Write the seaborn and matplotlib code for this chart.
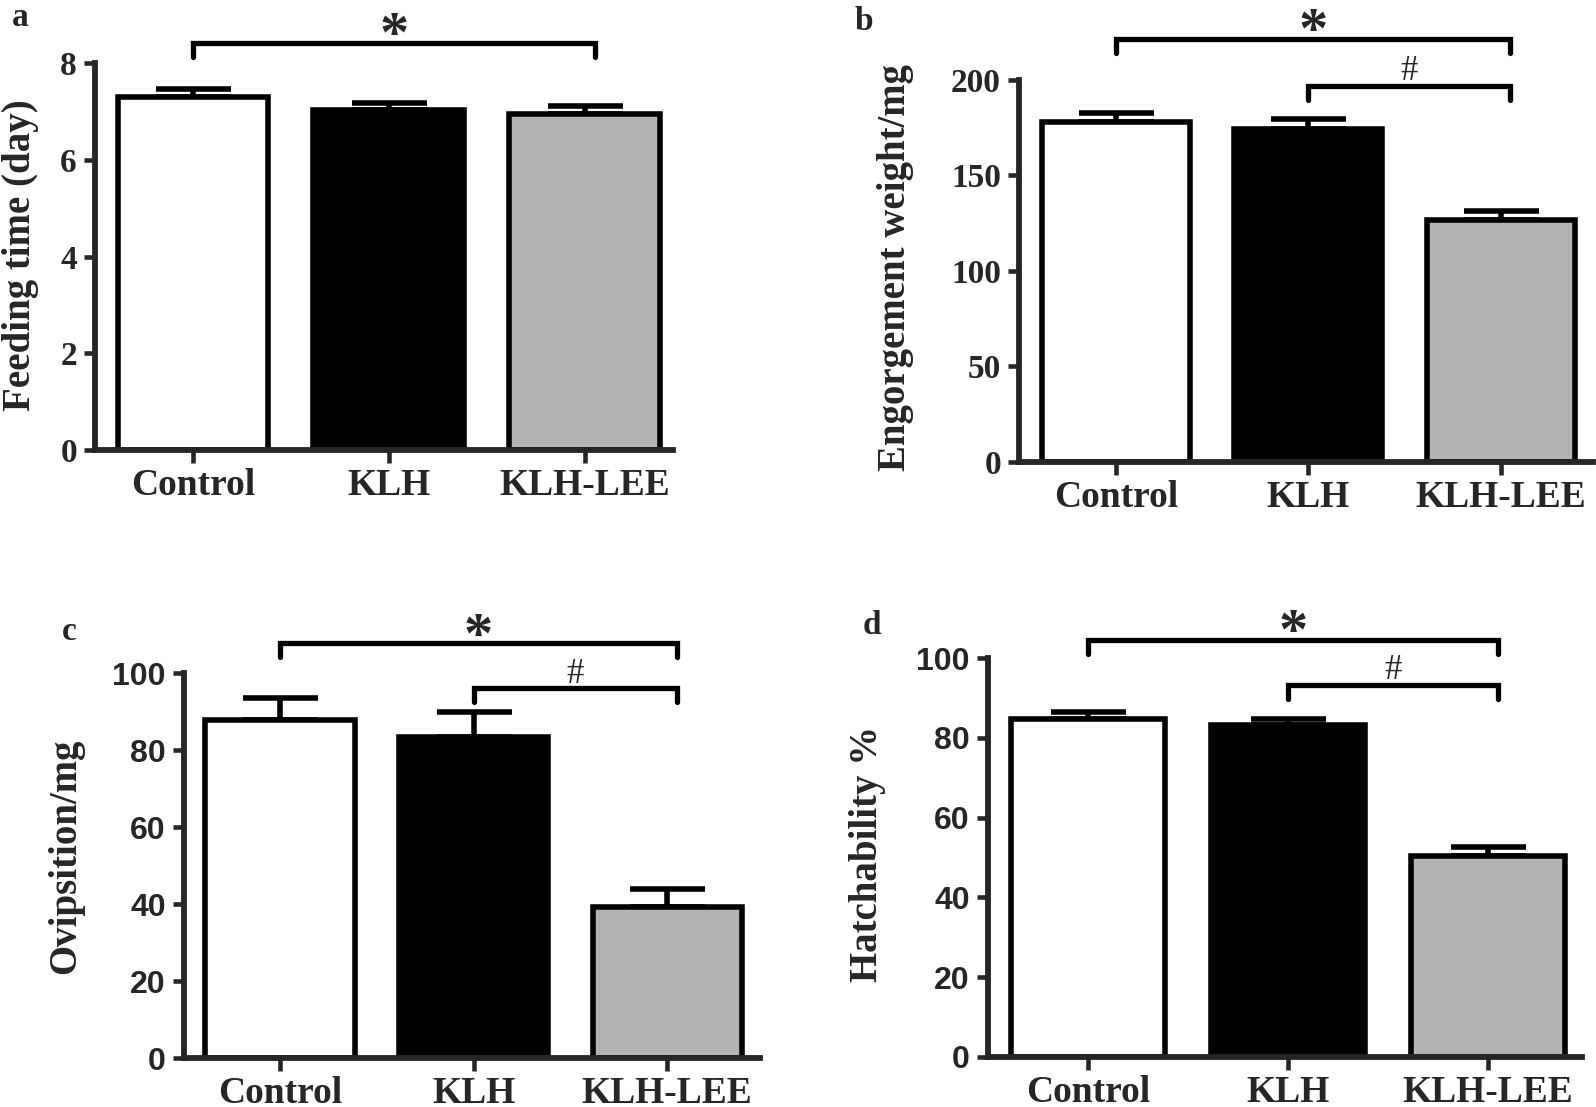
import numpy as np
import pandas as pd
import seaborn as sns
import matplotlib.pyplot as plt

sns.set_style('ticks')
plt.rcParams['font.family'] = ['Liberation Serif', 'DejaVu Serif']

groups = ['Control', 'KLH', 'KLH-LEE']
bar_colors = ['white', 'black', '#b3b3b3']

# means and SEM
feeding_mean = [7.31, 7.03, 6.96]
feeding_sem = [0.16, 0.15, 0.15]
engorge_mean = [178.2, 174.5, 126.7]
engorge_sem = [4.5, 5.2, 4.7]
ovi_mean = [88.0, 83.4, 39.2]
ovi_sem = [5.5, 6.5, 4.7]
hatch_mean = [84.7, 83.2, 50.5]
hatch_sem = [1.7, 1.5, 2.2]

feeding_ticks = [0, 2, 4, 6, 8]
engorge_ticks = [0, 50, 100, 150, 200]
pct_ticks = [0, 20, 40, 60, 80, 100]

# significance brackets: (from group, to group, symbol, bracket height)
feeding_sig = [(0, 2, '*', 8.42)]
engorge_sig = [(0, 2, '*', 221.4), (1, 2, '#', 196.9)]
ovi_sig = [(0, 2, '*', 107.8), (1, 2, '#', 96.1)]
hatch_sig = [(0, 2, '*', 104.7), (1, 2, '#', 93.3)]

W, H = 1596, 1107
fig = plt.figure(figsize=(W / 100, H / 100), dpi=100)


def make_ax(left, right, y0, ytop):
    return fig.add_axes([left / W, 1 - y0 / H, (right - left) / W, (y0 - ytop) / H])


def panel(ax, mean, sem, ticks, sig, xlim, tickfont, ticksize):
    df = pd.DataFrame({'group': groups, 'value': mean})
    sns.barplot(data=df, x='group', y='value', hue='group', palette=bar_colors,
                legend=False, width=0.77, edgecolor='black', linewidth=4,
                errorbar=None, ax=ax)
    ax.errorbar(range(len(groups)), mean, yerr=[np.zeros(len(sem)), sem], fmt='none',
                ecolor='black', elinewidth=4, capsize=27, capthick=4, zorder=0.5)
    top = ticks[-1]
    ax.set_ylim(0, top)
    ax.set_xlim(*xlim)
    ax.set_yticks(ticks)
    ax.set_xlabel('')
    ax.set_ylabel('')
    sns.despine(ax=ax)
    for s in ['left', 'bottom']:
        ax.spines[s].set_linewidth(4.2)
    ax.spines['left'].set_bounds(0, top)
    ax.tick_params(axis='y', length=8, width=3.3, pad=5)
    ax.tick_params(axis='x', length=9, width=3.3, pad=4)
    for lab in ax.get_xticklabels():
        lab.set_fontsize(27)
        lab.set_fontweight('bold')
        lab.set_family('Liberation Serif')
    for lab in ax.get_yticklabels():
        lab.set_fontsize(ticksize)
        lab.set_fontweight('bold')
        lab.set_family(tickfont)

    drop = 0.036 * top
    for i, j, sym, h in sig:
        xr = j + 0.05
        ax.plot([i, i, xr, xr], [h - drop, h, h, h - drop], color='black', lw=3.8,
                clip_on=False, solid_joinstyle='miter')
        if sym == '*':
            ax.annotate(sym, xy=((i + xr) / 2, h), xytext=(0, -6), textcoords='offset points',
                        ha='center', va='baseline', fontsize=42, fontweight='bold',
                        annotation_clip=False)
        else:
            ax.annotate(sym, xy=((i + xr) / 2, h), xytext=(0, 4), textcoords='offset points',
                        ha='center', va='baseline', fontsize=25, annotation_clip=False)


ax_a = make_ax(95, 673, 450, 63.3)
panel(ax_a, feeding_mean, feeding_sem, feeding_ticks, feeding_sig, (-0.5, 2.45),
      'Liberation Serif', 24)

ax_b = make_ax(1019, 1593, 461.7, 80)
panel(ax_b, engorge_mean, engorge_sem, engorge_ticks, engorge_sig, (-0.503, 2.48),
      'Liberation Serif', 24)

ax_c = make_ax(184, 760, 1058.3, 673.3)
panel(ax_c, ovi_mean, ovi_sem, pct_ticks, ovi_sig, (-0.496, 2.48), 'Liberation Sans', 23)

ax_d = make_ax(988, 1582, 1056.7, 658.3)
panel(ax_d, hatch_mean, hatch_sem, pct_ticks, hatch_sig, (-0.5, 2.47), 'Liberation Sans', 23)

# y axis titles
fig.text(21 / W, 1 - 255 / H, 'Feeding time (day)', rotation=90, ha='center', va='center',
         fontsize=28, fontweight='bold')
fig.text(896 / W, 1 - 268 / H, 'Engorgement weight/mg', rotation=90, ha='center', va='center',
         fontsize=28, fontweight='bold')
fig.text(66 / W, 1 - 856 / H, 'Ovipsition/mg', rotation=90, ha='center', va='center',
         fontsize=28, fontweight='bold')
fig.text(867 / W, 1 - 854 / H, 'Hatchability %', rotation=90, ha='center', va='center',
         fontsize=28, fontweight='bold')

# panel letters
for letter, x, y in [('a', 20, 18), ('b', 864, 22), ('c', 69, 631), ('d', 872, 626)]:
    fig.text(x / W, 1 - y / H, letter, ha='center', va='center', fontsize=24, fontweight='bold')

fig.savefig('out.png', dpi=100)
